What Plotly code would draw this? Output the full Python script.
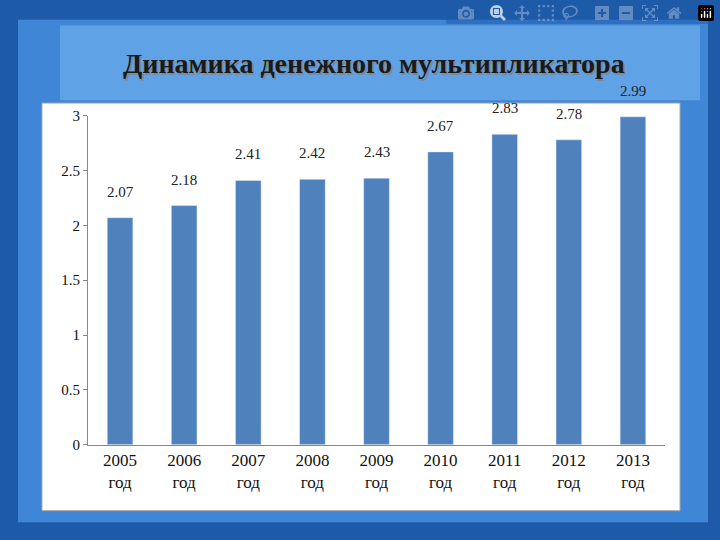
import plotly.graph_objects as go

years = ["2005", "2006", "2007", "2008", "2009", "2010", "2011", "2012", "2013"]
values = [2.07, 2.18, 2.41, 2.42, 2.43, 2.67, 2.83, 2.78, 2.99]
cats = [f"{y}<br>год" for y in years]

fig = go.Figure(go.Bar(x=cats, y=values, marker_color="#4f81bd", width=0.4))

for c, v in zip(cats, values):
    fig.add_annotation(x=c, y=v, text=f"{v:.2f}", showarrow=False, yshift=16, yanchor="bottom",
                       font=dict(family="Liberation Serif", size=15, color="#222"))

W, H = 720, 540
def px(x): return x / W
def py(y): return 1 - y / H

fig.update_layout(width=W, height=H, margin=dict(l=0, r=0, t=0, b=0),
                  paper_bgcolor="#1d5aa8", plot_bgcolor="white", showlegend=False)
fig.add_shape(type="rect", xref="paper", yref="paper", x0=px(18), x1=px(708), y0=py(530), y1=py(12),
              fillcolor="#3f86d6", line_width=0, layer="below")
fig.add_shape(type="rect", xref="paper", yref="paper", x0=px(60), x1=px(700), y0=py(95), y1=py(18),
              fillcolor="#5fa3e6", line_width=0, layer="below")
fig.add_shape(type="rect", xref="paper", yref="paper", x0=px(42), x1=px(680), y0=py(518), y1=py(98),
              fillcolor="white", line=dict(color="#aaaaaa", width=1), layer="below")

title = "<b>Динамика денежного мультипликатора</b>"
fig.add_annotation(xref="paper", yref="paper", x=px(376), y=py(59), text=title, showarrow=False,
                   yanchor="middle", font=dict(family="Liberation Serif", size=28, color="#7a8a9a"))
fig.add_annotation(xref="paper", yref="paper", x=px(374), y=py(57), text=title, showarrow=False,
                   yanchor="middle", font=dict(family="Liberation Serif", size=28, color="#1a1a1a"))

fig.update_xaxes(domain=[px(88), px(665)], showline=True, linecolor="#888", ticks="",
                 tickfont=dict(family="Liberation Serif", size=17, color="#111"))
fig.update_yaxes(domain=[py(450), py(111)], range=[0, 3], dtick=0.5, showgrid=False,
                 showline=True, linecolor="#888", ticks="outside", ticklen=4, tickcolor="#888",
                 tickfont=dict(family="Liberation Serif", size=15, color="#111"))
fig.write_html("out.html", post_script="document.body.style.margin='0';document.body.style.overflow='hidden';")
